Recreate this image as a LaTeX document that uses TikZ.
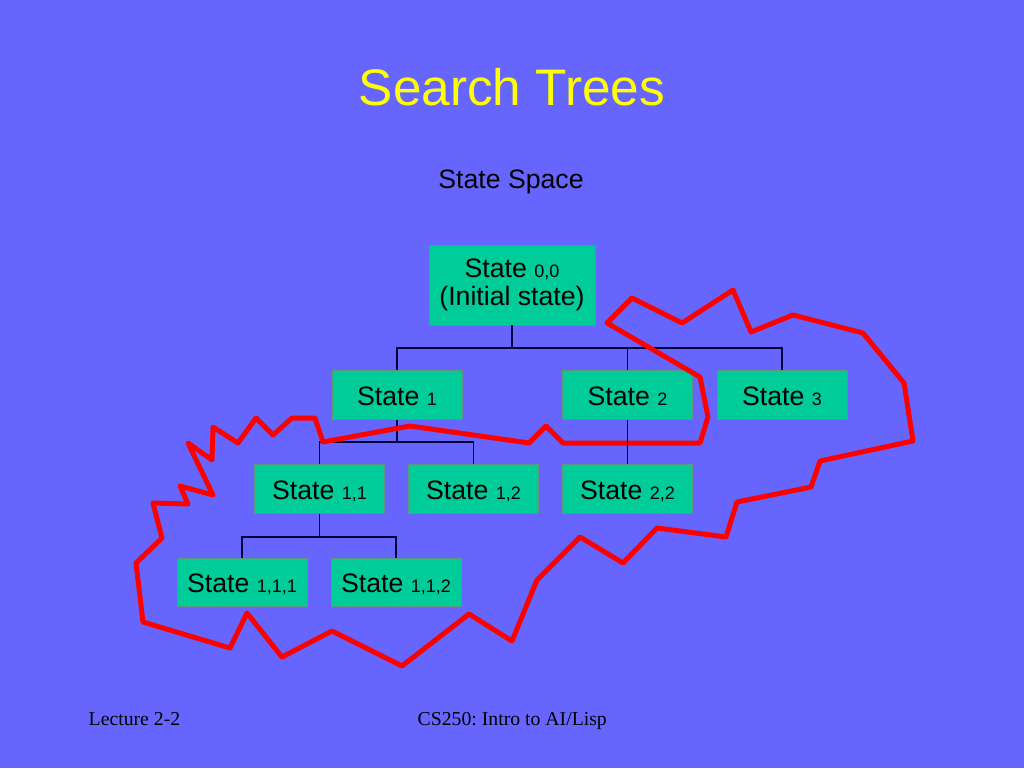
\documentclass[tikz,border=0pt]{standalone}
\usepackage{fontspec}
\setmainfont{Liberation Sans}
\newfontfamily\footfont{Liberation Serif}
\definecolor{bg}{RGB}{102,102,255}
\definecolor{boxfill}{RGB}{0,204,153}
\definecolor{boxline}{RGB}{90,150,130}
\definecolor{navy}{RGB}{0,0,60}
\definecolor{titley}{RGB}{255,255,0}
\definecolor{loopred}{RGB}{255,0,0}
\newcommand{\ssub}[1]{{\fontsize{13.5}{16}\selectfont #1}}
\frenchspacing
\begin{document}
\begin{tikzpicture}[x=0.75pt,y=-0.75pt,
  boxbase/.style={draw=boxline, line width=0.6pt, fill=boxfill, inner sep=0pt, text=black},
  statebox/.style={boxbase, minimum width=97.5pt, minimum height=36.5pt,
    text height=15pt, text depth=0pt, font=\fontsize{20}{24}\selectfont},
  rootbox/.style={boxbase, minimum width=124.5pt, minimum height=60pt, align=center,
    font=\fontsize{20}{21}\selectfont},
  tree/.style={draw=navy, line width=1.4pt},
  loop/.style={draw=loopred, line width=3.75pt, line join=round},
  foot/.style={text=black, font=\footfont\fontsize{14.8}{18}\selectfont, anchor=base west}
]
\fill[bg] (0,0) rectangle (1024,768);
\useasboundingbox (0,0) rectangle (1024,768);

\node[text=titley, font=\fontsize{38.5}{46}\selectfont, anchor=base] (title) at (512,105) {Search Trees};
\node[text=black, font=\fontsize{20}{24}\selectfont, anchor=base] (space) at (511,188) {State Space};

\node[rootbox] (s00) at (512,285) {State \ssub{0,0}\\(Initial state)};
\node[statebox] (s1) at (397,395) {State \ssub{1}};
\node[statebox] (s2) at (627.5,395) {State \ssub{2}};
\node[statebox] (s3) at (782,395) {State \ssub{3}};
\node[statebox] (s11) at (319.5,489) {State \ssub{1,1}};
\node[statebox] (s12) at (473.5,489) {State \ssub{1,2}};
\node[statebox] (s22) at (627.5,489) {State \ssub{2,2}};
\node[statebox] (s111) at (242,582.5) {State \ssub{1,1,1}};
\node[statebox] (s112) at (396,582.5) {State \ssub{1,1,2}};

\draw[tree] (s00.south) -- ++(0,23) -| (s1.north);
\draw[tree] (s00.south) -- ++(0,23) -| (s2.north);
\draw[tree] (s00.south) -- ++(0,23) -| (s3.north);
\draw[tree] (s1.south) -- ++(0,22.5) -| (s11.north);
\draw[tree] (s1.south) -- ++(0,22.5) -| (s12.north);
\draw[tree] (s11.south) -- ++(0,23) -| (s111.north);
\draw[tree] (s11.south) -- ++(0,23) -| (s112.north);

\draw[loop] (323,442) -- (410,426) -- (529,443) -- (546,426) -- (563,443) -- (700,443)
  -- (708,417) -- (700,377) -- (607,323) -- (632,298) -- (682,323) -- (733,290)
  -- (751,332) -- (793,315) -- (863,333) -- (904,383) -- (913,441) -- (820,461)
  -- (811,487) -- (737,502) -- (726,537) -- (657,528) -- (623,563) -- (580,537)
  -- (537,580) -- (512,641) -- (469,614) -- (402,666) -- (332,631) -- (282,657)
  -- (247,613) -- (230,648) -- (143,622) -- (136,563) -- (162,538) -- (153,503)
  -- (188,504) -- (180,486) -- (213,495) -- (188,443) -- (212,460) -- (213,427)
  -- (238,443) -- (256,418) -- (273,435) -- (292,418) -- (315,418) -- cycle;

\draw[tree] (s2.south) -- (s22.north);

\node[foot] (lec) at (84,725) {Lecture 2-2};
\node[foot] (course) at (413,725) {CS250: Intro to AI/Lisp};
\end{tikzpicture}
\end{document}
